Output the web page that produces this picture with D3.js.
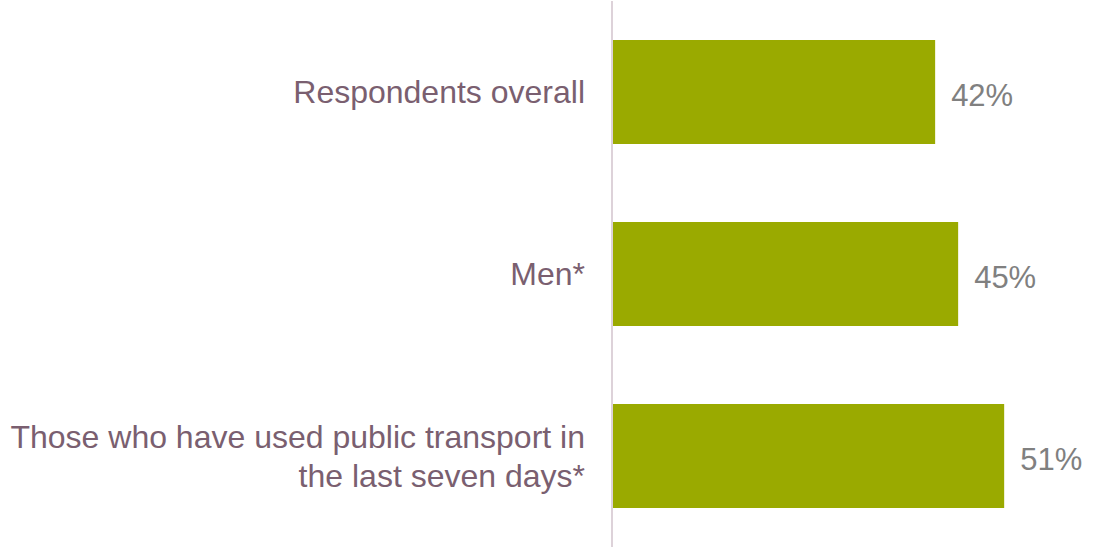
<!DOCTYPE html>
<html>
<head>
<meta charset="utf-8">
<script src="https://cdn.jsdelivr.net/npm/d3@7"></script>
<style>
  html, body { margin: 0; padding: 0; background: #ffffff; }
  svg { display: block; }
</style>
</head>
<body>
<svg id="chart" width="1095" height="548"></svg>
<script>
// Share of respondents by group
const categories = [
  ["Respondents overall"],
  ["Men*"],
  ["Those who have used public transport in", "the last seven days*"]
];
const values = [42, 45, 51];
const valueLabels = ["42%", "45%", "51%"];

const W = 1095, H = 548;
const originX = 612;
const svg = d3.select("#chart");

const x = d3.scaleLinear().domain([0, 100]).range([originX + 1, originX + 1 + 767]);
const y = d3.scaleBand()
  .domain(d3.range(categories.length))
  .range([3.6, 544.4])
  .paddingInner(0.4286)
  .paddingOuter(0.2);

const font = "'Liberation Sans', Arial, sans-serif";

// bars
svg.append("g").selectAll("rect")
  .data(values)
  .join("rect")
  .attr("x", x(0))
  .attr("y", (d, i) => y(i))
  .attr("width", d => x(d) - x(0))
  .attr("height", y.bandwidth())
  .attr("fill", "#9aaa00");

// vertical category axis line
svg.append("line")
  .attr("x1", originX).attr("x2", originX)
  .attr("y1", 1).attr("y2", 547)
  .attr("stroke", "#ddd2d9")
  .attr("stroke-width", 2);

// value labels
svg.append("g").selectAll("text")
  .data(values)
  .join("text")
  .attr("x", d => x(d) + 16)
  .attr("y", (d, i) => y(i) + y.bandwidth() / 2 + 3)
  .attr("dy", "0.35em")
  .attr("font-family", font)
  .attr("font-size", 31)
  .attr("fill", "#808080")
  .text((d, i) => valueLabels[i]);

// category labels
const lineH = 39;
const cat = svg.append("g").selectAll("text")
  .data(categories)
  .join("text")
  .attr("text-anchor", "end")
  .attr("font-family", font)
  .attr("font-size", 32)
  .attr("fill", "#7a5f70")
  .attr("transform", (d, i) => {
    const cy = y(i) + y.bandwidth() / 2 - (d.length - 1) * lineH / 2;
    return `translate(${originX - 27},${cy})`;
  });
cat.selectAll("tspan")
  .data(d => d)
  .join("tspan")
  .attr("x", 0)
  .attr("y", (d, j) => j * lineH)
  .attr("dy", "0.35em")
  .text(d => d);
</script>
</body>
</html>
